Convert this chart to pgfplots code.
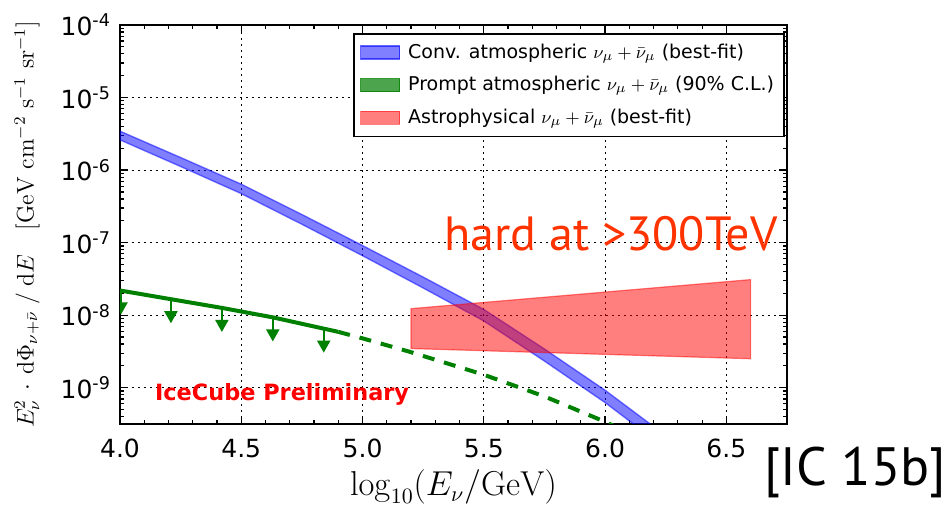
\documentclass[border=0pt]{standalone}
\usepackage[no-math]{fontspec}
\usepackage{pgfplots}
\pgfplotsset{compat=1.18}
\newfontfamily\dv{DejaVu Sans}
\newfontfamily\comic{PT Sans}
\definecolor{mplgreen}{rgb}{0,0.5,0}
\definecolor{hardred}{RGB}{255,51,0}

\pgfdeclareplotmark{uplim}{%
  \pgfsetlinewidth{1pt}%
  \pgfpathmoveto{\pgfpoint{0pt}{0pt}}%
  \pgfpathlineto{\pgfpoint{0pt}{-7pt}}%
  \pgfusepathqstroke
  \pgfpathmoveto{\pgfpoint{-3.4pt}{-6pt}}%
  \pgfpathlineto{\pgfpoint{3.4pt}{-6pt}}%
  \pgfpathlineto{\pgfpoint{0pt}{-12pt}}%
  \pgfpathclose
  \pgfusepathqfill
}

\begin{document}
\begin{tikzpicture}
\begin{axis}[
  at={(0pt,0pt)}, anchor=south west,
  scale only axis, width=333.5pt, height=199.5pt,
  xmin=4, xmax=6.75,
  ymode=log, ymin=3.1623e-10, ymax=1e-4,
  xtick={4,4.5,5,5.5,6,6.5},
  xticklabels={4.0,4.5,5.0,5.5,6.0,6.5},
  minor x tick num=4,
  ytick={1e-9,1e-8,1e-7,1e-6,1e-5,1e-4},
  yticklabels={10\textsuperscript{-9},10\textsuperscript{-8},10\textsuperscript{-7},10\textsuperscript{-6},10\textsuperscript{-5},10\textsuperscript{-4}},
  minor ytick={4e-10,5e-10,6e-10,7e-10,8e-10,9e-10,
    2e-9,3e-9,4e-9,5e-9,6e-9,7e-9,8e-9,9e-9,
    2e-8,3e-8,4e-8,5e-8,6e-8,7e-8,8e-8,9e-8,
    2e-7,3e-7,4e-7,5e-7,6e-7,7e-7,8e-7,9e-7,
    2e-6,3e-6,4e-6,5e-6,6e-6,7e-6,8e-6,9e-6,
    2e-5,3e-5,4e-5,5e-5,6e-5,7e-5,8e-5,9e-5},
  tick align=inside, tick pos=both,
  major tick length=4pt, minor tick length=2pt,
  every tick/.style={black, line width=0.6pt},
  grid=major,
  major grid style={black, line width=0.5pt, dash pattern=on 1pt off 2pt},
  axis line style={black, line width=1pt},
  ticklabel style={font=\dv\fontsize{12.5}{14}\selectfont},
  xticklabel style={yshift=-4pt},
  yticklabel style={xshift=-1pt},
  xlabel={$\log_{10}(E_\nu/\mathrm{GeV})$},
  xlabel style={font=\fontsize{16}{19}\selectfont, at={(axis description cs:0.5,0)}, anchor=base, yshift=-36pt},
  ylabel={$E_\nu^2\,\cdot\,\mathrm{d}\Phi_{\nu+\bar{\nu}}\;/\;\mathrm{d}E\quad[\mathrm{GeV}\ \mathrm{cm}^{-2}\ \mathrm{s}^{-1}\ \mathrm{sr}^{-1}]$},
  ylabel style={font=\fontsize{12}{14}\selectfont, at={(axis description cs:0,0.5)}, anchor=center, yshift=46.5pt},
  clip marker paths=true,
  legend style={at={(rel axis cs:0.997,0.98)}, anchor=north east, draw=black, line width=0.8pt,
    font=\dv\fontsize{9.5}{11}\selectfont, inner xsep=3pt, inner ysep=3pt, row sep=3.6pt, fill=white,
    /tikz/every odd column/.append style={column sep=2pt}},
  legend cell align=left,
  legend image code/.code={\draw[#1] (0pt,-3.25pt) rectangle (19.5pt,3.25pt);},
]
% legend entries
\addlegendimage{fill=blue, fill opacity=0.5, draw=blue, draw opacity=0.6, line width=0.6pt}
\addlegendentry{Conv. atmospheric $\nu_\mu+\bar{\nu}_\mu$\ (best-fit)}
\addlegendimage{fill=mplgreen, fill opacity=0.7, draw=mplgreen, draw opacity=0.8, line width=0.6pt}
\addlegendentry{Prompt atmospheric $\nu_\mu+\bar{\nu}_\mu$\ (90\% C.L.)}
\addlegendimage{fill=red, fill opacity=0.5, draw=red, draw opacity=0.5, line width=0.6pt}
\addlegendentry{Astrophysical $\nu_\mu+\bar{\nu}_\mu$\ (best-fit)}

% conventional atmospheric band (upper edge, then lower edge reversed)
\addplot[fill=blue, fill opacity=0.5, draw=blue, draw opacity=0.5, line width=0.7pt, forget plot] table {
x y
4.0  3.44e-6
4.25 1.49e-6
4.5  6.39e-7
4.75 2.44e-7
5.0  9.12e-8
5.25 3.35e-8
5.5  1.20e-8
5.75 3.42e-9
6.0  9.23e-10
6.25 2.19e-10
6.25 1.45e-10
6.0  6.24e-10
5.75 2.33e-9
5.5  8.32e-9
5.25 2.37e-8
5.0  6.60e-8
4.75 1.79e-7
4.5  4.74e-7
4.25 1.12e-6
4.0  2.61e-6
} -- cycle;

% prompt: solid part
\addplot[mplgreen, line width=2pt, forget plot] table {
x y
4.0  2.19e-8
4.21 1.66e-8
4.42 1.26e-8
4.63 9.33e-9
4.9  5.89e-9
};
% prompt: dashed part
\addplot[mplgreen, line width=2pt, dash pattern=on 6pt off 5pt, forget plot] table {
x y
4.9  5.89e-9
5.0  4.79e-9
5.19 3.16e-9
5.5  1.51e-9
5.75 7.59e-10
6.0  3.39e-10
6.05 2.82e-10
};
% prompt upper limits
\addplot[only marks, mark=uplim, mplgreen, mark options={fill=mplgreen, draw=mplgreen}, forget plot] table {
x y
4.004 2.19e-8
4.21 1.66e-8
4.42 1.26e-8
4.63 9.33e-9
4.84 6.53e-9
};

% astrophysical band
\addplot[fill=red, fill opacity=0.5, draw=red, draw opacity=0.5, line width=0.6pt, forget plot] coordinates {
(5.2,1.23e-8) (6.6,3.09e-8) (6.6,2.51e-9) (5.2,3.47e-9)
} -- cycle;

\node[font=\dv\bfseries\fontsize{11.2}{13}\selectfont, text=red, anchor=center] at (rel axis cs:0.243,0.075) {IceCube Preliminary};
\node[font=\comic\fontsize{24}{28}\selectfont, text=hardred, anchor=base] at (rel axis cs:0.736,0.436) {hard at >300TeV};
\end{axis}
\node[font=\comic\fontsize{27}{30}\selectfont, anchor=center] at (367.5pt,-24pt) {[IC 15b]};
\pgfresetboundingbox
\path[use as bounding box] (-60pt,-41pt) rectangle (414.5pt,212pt);
\end{tikzpicture}
\end{document}
